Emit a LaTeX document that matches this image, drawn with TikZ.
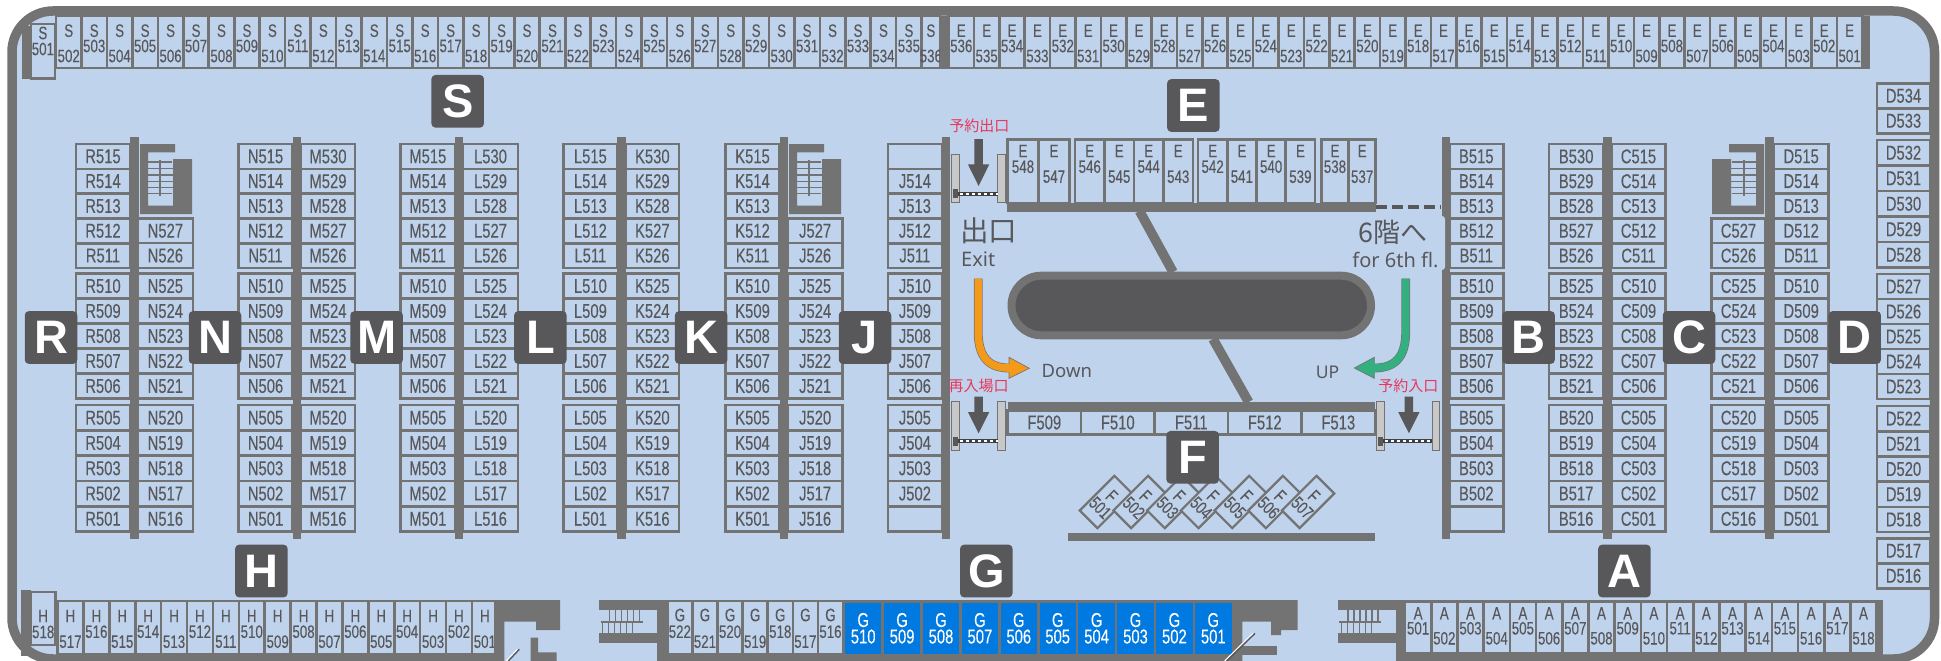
\documentclass[tikz,border=0pt]{standalone}
\usepackage{fontspec}
\newfontfamily\stallfont[FakeStretch=0.74,FakeBold=0.2]{Liberation Sans}
\newfontfamily\badgefont{Liberation Sans}
\newfontfamily\signfont{Noto Sans}
\newfontfamily\cjkfont{Noto Sans CJK JP}
\definecolor{floorblue}{HTML}{BFD3ED}
\definecolor{wallgray}{HTML}{737373}
\definecolor{inkgray}{HTML}{58585A}
\definecolor{postgray}{HTML}{C8C8C8}
\definecolor{soldblue}{HTML}{0079E0}
\definecolor{gatered}{HTML}{E8375C}
\definecolor{downorange}{HTML}{F39A1B}
\definecolor{upgreen}{HTML}{34B080}
\tikzset{
	stall/.style={draw=wallgray,fill=floorblue,line width=2.6pt,inner sep=0pt,outer sep=0pt,text=inkgray,font=\stallfont\fontsize{20}{18}\selectfont},
	stalltext/.style={inner sep=0pt,text=inkgray,font=\stallfont\fontsize{18}{16.5}\selectfont},
	soldstall/.style={fill=soldblue,inner sep=0pt,outer sep=0pt,text=white,align=center,font=\stallfont\fontsize{20}{16.5}\selectfont},
	badge/.style={fill=inkgray,rounded corners=4pt,minimum width=52.5pt,minimum height=52.7pt,inner sep=0pt,text=white,font=\badgefont\bfseries\fontsize{47}{47}\selectfont},
	gatelabel/.style={inner sep=0pt,text=gatered,font=\cjkfont\fontsize{15}{15}\selectfont},
	signlabel/.style={inner sep=0pt,text=inkgray,font=\signfont\fontsize{20}{20}\selectfont}
}
\def\stallcol(#1:#2:#3:#4)#5#6{\foreach \n [count=\i from 0] in {#6}{\node[stall,minimum width={#2-#1},minimum height=#4] (#5\n) at ({(#1+#2)/2},{#3+(\i+.5)*#4}) {#5\n};}}
\def\aislecol(#1:#2)#3#4#5#6{\stallcol(#1:#2:144:24.8){#3}{#4}\stallcol(#1:#2:273.5:25){#3}{#5}\stallcol(#1:#2:405:25.3){#3}{#6}}
\def\stallrow(#1:#2:#3:#4:#5:#6:#7)#8#9{\foreach \n [count=\i from 0] in {#9}{
	\node[stall,minimum width=#2,minimum height={#4-#3}] (#8\n) at ({#1+(\i+.5)*#2},{(#3+#4)/2}) {};
	\node[stalltext] (#8\n a) at ({#1+(\i+.5)*#2},#5) {#8};
	\node[stalltext] (#8\n b) at ({#1+(\i+.5)*#2},{#6+mod(\i+#7,2)*10}) {\n};
}}
\def\stairblock[#1]{\begin{scope}[#1]
	\fill[wallgray] (140,144) -- (175,144) -- (175,152.3) -- (148,152.3) -- (148,205.7) -- (173,205.7) -- (173,159) -- (192,159) -- (192,214) -- (140,214) -- cycle;
	\foreach \y in {168.5,175,181.5,187.5} \draw[wallgray,line width=1.6pt] (148,\y) -- (173,\y);
	\foreach \y in {162,193.5} \draw[wallgray,line width=1.6pt] (148,\y) -- (172,\y);
	\draw[wallgray,line width=1.6pt] (160,160) -- (160,196);
\end{scope}}
\def\flightstairs(#1){\begin{scope}[shift={(#1,0)}]
	\fill[wallgray] (0,600) rectangle (58.4,610);
	\fill[wallgray] (0,633.3) rectangle (58.4,643.3);
	\fill[wallgray] (58,600) rectangle (68,661);
	\foreach \x in {10,16,22,28,34,40} \draw[wallgray,line width=1.3pt] (\x,610) -- (\x,621.7);
	\foreach \x in {3.4,9.4,15.4,21.4,27.4,33.4} \draw[wallgray,line width=1.3pt] (\x,621.7) -- (\x,633.3);
	\draw[wallgray,line width=2pt] (1.3,621.7) -- (43.3,621.7);
\end{scope}}
\def\gate(#1:#2:#3:#4:#5){
	\draw[wallgray,fill=postgray,line width=.8pt] (#1,#3) rectangle ({#1+7.8},#4);
	\draw[wallgray,fill=postgray,line width=.8pt] (#2,#3) rectangle ({#2+7.8},#4);
	\fill[inkgray] ({#1+1.2},{#5-4.5}) rectangle ({#1+6.5},{#5+4.5});
	\draw[black!75,line width=4pt] ({#1+6.5},#5) -- (#2,#5);
	\draw[white,line width=2pt,dash pattern=on 3pt off 3pt] ({#1+8},#5) -- (#2,#5);
}
\def\gatearrow(#1:#2:#3:#4){\fill[inkgray] ({#1-4.2},#2) -- ({#1+4.2},#2) -- ({#1+4.2},#3) -- ({#1+10.7},#3) -- (#1,#4) -- ({#1-10.7},#3) -- ({#1-4.2},#3) -- cycle;}

\begin{document}
\begin{tikzpicture}[x=1pt,y=-1pt]
	\useasboundingbox (0,0) rectangle (1941,661);
	\fill[white] (0,0) rectangle (1941,661);
	\fill[floorblue,rounded corners=41pt] (12,11) rectangle (1934.5,659);
	\draw[wallgray,line width=9.5pt,rounded corners=41pt] (12,11) rectangle (1934.5,659);
	\fill[floorblue] (504.3,650) rectangle (657.7,661);
	\fill[floorblue] (1242.3,650) rectangle (1396,661);

	\fill[wallgray] (21.6,26) rectangle (31,79);
	\stallrow(31:23.8:24:78.3:33:49:0){S}{501}
	\stallrow(56:25.46:16:68:30.7:46:1){S}{502,503,...,535}
	\stallrow(921.7:18.3:16:68:30.7:46:1){S}{536}
	\stallrow(948.6:25.38:16:68:30.7:46:0){E}{536,535,...,501}
	\fill[wallgray] (940,16) rectangle (948.6,69);
	\fill[wallgray] (1860.7,16) rectangle (1870,69);

	\aislecol(76:130){R}{515,514,513,512,511}{510,509,508,507,506}{505,504,503,502,501}
	\stallcol(137.8:193:218.3:24.85){N}{527,526}
	\stallcol(137.8:193:273.5:25){N}{525,524,523,522,521}
	\stallcol(137.8:193:405:25.3){N}{520,519,518,517,516}
	\aislecol(238.5:292.6){N}{515,514,513,512,511}{510,509,508,507,506}{505,504,503,502,501}
	\aislecol(301:355){M}{530,529,528,527,526}{525,524,523,522,521}{520,519,518,517,516}
	\aislecol(400.7:455){M}{515,514,513,512,511}{510,509,508,507,506}{505,504,503,502,501}
	\aislecol(463:518){L}{530,529,528,527,526}{525,524,523,522,521}{520,519,518,517,516}
	\aislecol(563.5:617.3){L}{515,514,513,512,511}{510,509,508,507,506}{505,504,503,502,501}
	\aislecol(625.7:679){K}{530,529,528,527,526}{525,524,523,522,521}{520,519,518,517,516}
	\aislecol(725.5:779.6){K}{515,514,513,512,511}{510,509,508,507,506}{505,504,503,502,501}
	\stallcol(787.8:842.5:218.3:24.85){J}{527,526}
	\stallcol(787.8:842.5:273.5:25){J}{525,524,523,522,521}
	\stallcol(787.8:842.5:405:25.3){J}{520,519,518,517,516}
	\draw[stall] (887.8,144) rectangle (942,168.8);
	\stallcol(887.8:942:168.8:24.8){J}{514,513,512,511}
	\stallcol(887.8:942:273.5:25){J}{510,509,508,507,506}
	\stallcol(887.8:942:405:25.3){J}{505,504,503,502}
	\draw[stall] (887.8,506.2) rectangle (942,531.5);

	\aislecol(1449.3:1503.3){B}{515,514,513,512,511}{510,509,508,507,506}{505,504,503,502}
	\draw[stall] (1449.3,506.2) rectangle (1503.3,531.5);
	\aislecol(1549:1603.3){B}{530,529,528,527,526}{525,524,523,522,521}{520,519,518,517,516}
	\aislecol(1611.3:1665.7){C}{515,514,513,512,511}{510,509,508,507,506}{505,504,503,502,501}
	\stallcol(1711.7:1765.3:218.3:24.85){C}{527,526}
	\stallcol(1711.7:1765.3:273.5:25){C}{525,524,523,522,521}
	\stallcol(1711.7:1765.3:405:25.3){C}{520,519,518,517,516}
	\aislecol(1774:1828.3){D}{515,514,513,512,511}{510,509,508,507,506}{505,504,503,502,501}
	\stallcol(1877:1930:83.3:25){D}{534,533}
	\stallcol(1877:1930:140:25.5){D}{532,531,530,529,528}
	\stallcol(1877:1930:274:25){D}{527,526,525,524,523}
	\stallcol(1877:1930:406:25.2){D}{522,521,520,519,518}
	\stallcol(1877:1930:538.3:25){D}{517,516}

	\foreach \x in {130.3,292.6,455,617.3,779.6,942,1441.5,1603.3,1765.3} \fill[wallgray] (\x,136.7) rectangle +(8.3,402.7);
	\stairblock[shift={(0,0)}]
	\stairblock[xshift=649pt]
	\stairblock[xshift=1904pt,xscale=-1]

	\fill[wallgray] (21.3,590) rectangle (30.7,656);
	\stallrow(30.7:25:592:645:616:632:0){H}{518}
	\stallrow(57.5:25.9:601:654:616:631.7:1){H}{517,516,...,501}
	\fill[wallgray] (494,600) -- (560,600) -- (560,630) -- (536,630) -- (536,621.7) -- (504.3,621.7) -- (504.3,661) -- (494,661) -- cycle;
	\fill[wallgray] (530.7,637.7) -- (538,637.7) -- (538,652.3) -- (556.7,652.3) -- (556.7,661) -- (530.7,661) -- cycle;
	\draw[white,line width=1.2pt] (517.3,649.3) -- (506.3,661);
	\draw[inkgray,line width=1.4pt] (519.3,649.3) -- (508.3,661);

	\flightstairs(599.3)
	\stallrow(667.3:25.1:601:654:615:631.7:0){G}{522,521,...,516}
	\fill[wallgray] (843,600) rectangle (1233,661);
	\foreach \n [count=\i from 0] in {510,509,...,501} \node[soldstall,minimum width=36.4pt,minimum height=51.5pt] (G\n) at ({863.2+\i*38.9},628.3) {G\\\n};
	\fill[wallgray] (1232.7,600) -- (1297.7,600) -- (1297.7,630) -- (1281,630) -- (1281,635) -- (1271,635) -- (1271,621.7) -- (1242.3,621.7) -- (1242.3,661) -- (1232.7,661) -- cycle;
	\fill[wallgray] (1242.3,645.5) rectangle (1277,655);
	\draw[white,line width=1.2pt] (1253,633.3) -- (1224.7,661);
	\draw[inkgray,line width=1.4pt] (1255,633.3) -- (1226.7,661);

	\flightstairs(1338)
	\stallrow(1405:26.2:601.5:653.5:613.3:628.3:0){A}{501,502,...,518}
	\fill[wallgray] (1875,600) rectangle (1883.3,661);

	\stallrow(1007.5:31:139.5:203:151:166.7:0){E}{548,547}
	\stallrow(1075:29.5:139.5:203:151:166.7:0){E}{546,545,544,543}
	\stallrow(1198:29.25:139.5:203:151:166.7:0){E}{542,541,540,539}
	\stallrow(1321.4:27.15:139.5:203:151:166.7:0){E}{538,537}
	\fill[wallgray] (1007,203) rectangle (1376,211.7);
	\draw[inkgray,line width=4pt,dash pattern=on 11pt off 5pt] (1375.7,207) -- (1441,207);

	\draw[wallgray,line width=9.6pt] (1139.5,211) -- (1173,272);
	\draw[wallgray,line width=9.6pt] (1213,339) -- (1248.6,402);
	\draw[fill=inkgray,draw=wallgray,line width=8pt,rounded corners=29.8pt] (1011.5,275.7) rectangle (1371,335.3);

	\fill[wallgray] (1007.5,401.7) rectangle (1375,410.7);
	\foreach \n [count=\i from 0] in {509,510,...,513} \node[stall,minimum width=73.5pt,minimum height=24pt] (F\n) at ({1044.3+\i*73.5},422.5) {F\n};
	\foreach \n [count=\i from 0] in {501,502,...,507} \node[stall,stalltext,draw=wallgray,line width=2.2pt,rotate=-45,minimum width=25pt,minimum height=49pt,align=center] (F\n) at ({1105.9+\i*33.7},502) {F\\\n};
	\fill[wallgray] (1067.9,532.7) rectangle (1375,541);

	\gate(951.8:997.5:154.3:202.7:193.7)
	\gatearrow(978.6:139:164.3:186)
	\gate(951.8:997.5:401.7:450.7:441)
	\gatearrow(978.6:396.7:412:433.3)
	\gate(1376.8:1432:401.7:450.7:441)
	\gatearrow(1408.9:396.7:412:433.3)
	\node[gatelabel] (gateout) at (979.3,125.5) {予約出口};
	\node[gatelabel] (gatere) at (978.5,386) {再入場口};
	\node[gatelabel] (gatein) at (1408.3,386) {予約入口};

	\fill[floorblue,rounded corners=3pt] (1340,216) rectangle (1445,270);
	\node[signlabel,anchor=west,font=\cjkfont\fontsize{28.5}{29}\selectfont] (exitjp) at (960,230.5) {出口};
	\node[signlabel,anchor=west] (exiten) at (961,259.5) {Exit};
	\node[signlabel,font=\cjkfont\fontsize{27}{27}\selectfont] (upjp) at (1392.5,232.5) {6階へ};
	\node[signlabel] (upen) at (1395.5,259.5) {for 6th fl.};
	\node[signlabel,anchor=west,font=\signfont\fontsize{18.5}{19}\selectfont] (downen) at (1041.5,370.7) {Down};
	\node[signlabel,font=\signfont\fontsize{17.5}{18}\selectfont] (upsign) at (1327.5,372.7) {UP};

	\draw[wallgray,line width=.7pt,fill=downorange] (1009,357.3) -- (1029.3,368.3) -- (1009,378.3) -- cycle;
	\draw[wallgray,double=downorange,double distance=7.4pt,line width=.7pt] (978.2,278.5) -- (978.2,332) .. controls (978.2,356) and (988,368) .. (1009,368);
	\draw[downorange,line width=7.4pt] (1007,368) -- (1011,368);
	\draw[wallgray,line width=.7pt,fill=upgreen] (1374.3,357.3) -- (1354.3,368) -- (1374.3,378.3) -- cycle;
	\draw[wallgray,double=upgreen,double distance=7.4pt,line width=.7pt] (1405.7,278.5) -- (1405.7,332) .. controls (1405.7,356) and (1396,368) .. (1374.3,368);
	\draw[upgreen,line width=7.4pt] (1372.3,368) -- (1376.3,368);

	\foreach \t/\x/\y in {S/457.7/101.3,E/1193.4/105.5,R/51/337.5,N/215/337.5,M/376.6/337.5,L/540.4/337.5,K/701.2/337.5,J/865/337.5,B/1528.6/337.5,C/1689/337.5,D/1854.7/337.5,H/261.4/571,G/986.3/571,A/1624.4/571,F/1192.7/457.3}
		\node[badge] (badge\t) at (\x,\y) {\t};
\end{tikzpicture}
\end{document}
